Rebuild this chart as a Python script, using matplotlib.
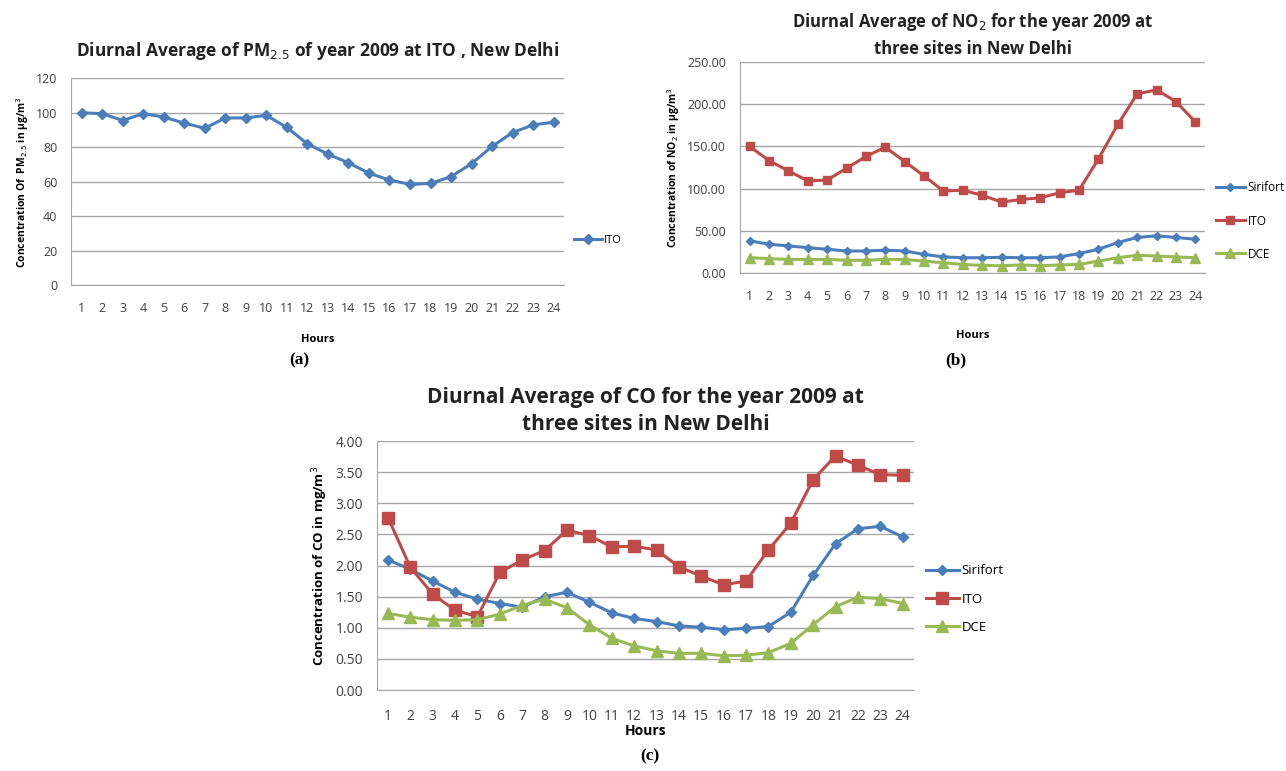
import matplotlib
matplotlib.use("Agg")
import matplotlib.pyplot as plt
import numpy as np

plt.rcParams['font.family'] = ['Open Sans', 'DejaVu Sans']

hours = list(range(1, 25))

# (a) PM2.5 at ITO, ug/m3
pm25_ito = [100, 99.5, 95.5, 99.5, 97.5, 94, 91, 97, 97, 98.5, 91.5, 82,
            76, 71, 65, 61, 58.5, 59, 63, 70.5, 80.5, 88.5, 93, 94.5]

# (b) NO2, ug/m3
no2_sirifort = [38, 34, 32, 30, 28, 26, 26, 27, 26, 22, 19, 18,
                18, 18.5, 18, 18, 19, 23, 28, 36, 42, 44, 42, 40]
no2_ito = [150, 133, 121, 109, 110, 124, 138, 149, 132, 115, 97, 98,
           92, 84, 87, 89, 95, 98, 135, 176, 212, 217, 203, 179]
no2_dce = [18, 17, 16, 16, 16, 15, 15, 16, 16, 14, 12, 10,
           9, 8.5, 9.5, 8.5, 9.5, 10, 14, 18, 21, 20, 19, 18]

# (c) CO, mg/m3
co_sirifort = [2.09, 1.94, 1.75, 1.57, 1.46, 1.39, 1.33, 1.50, 1.57, 1.41, 1.24, 1.15,
               1.10, 1.03, 1.01, 0.97, 0.99, 1.02, 1.25, 1.84, 2.35, 2.59, 2.63, 2.46]
co_ito = [2.77, 1.97, 1.54, 1.28, 1.18, 1.89, 2.09, 2.24, 2.57, 2.48, 2.30, 2.31,
          2.25, 1.98, 1.83, 1.69, 1.75, 2.25, 2.68, 3.38, 3.76, 3.61, 3.46, 3.45]
co_dce = [1.23, 1.17, 1.13, 1.12, 1.13, 1.22, 1.36, 1.46, 1.32, 1.05, 0.83, 0.71,
          0.63, 0.59, 0.59, 0.55, 0.56, 0.60, 0.75, 1.05, 1.34, 1.49, 1.47, 1.39]

blue = '#4A7EBB'
red = '#BE4B48'
green = '#98B954'
grid_col = '#A6A6A6'
tick_col = '#404040'


def style_axes(ax, yticks, fmt):
    ax.set_xlim(0.5, 24.5)
    ax.set_ylim(yticks[0], yticks[-1])
    ax.set_yticks(yticks)
    ax.set_yticklabels([fmt.format(v) for v in yticks])
    ax.set_xticks(hours)
    ax.yaxis.grid(True, color=grid_col, linewidth=1)
    ax.set_axisbelow(True)
    for s in ['top', 'right']:
        ax.spines[s].set_visible(False)
    for s in ['left', 'bottom']:
        ax.spines[s].set_color(grid_col)
    ax.tick_params(length=0, labelsize=9, colors=tick_col, pad=10)
    ax.tick_params(axis='x', pad=12)


fig = plt.figure(figsize=(12.86, 7.71), dpi=100)

# ---- panel (a)
ax1 = fig.add_axes([0.0555, 0.630, 0.383, 0.2685])
ax1.plot(hours, pm25_ito, color=blue, lw=2.2, marker='D', ms=5.5, label='ITO')
style_axes(ax1, np.arange(0, 121, 20), '{:.0f}')
ax1.set_title('Diurnal Average of PM$_{2.5}$ of year 2009 at ITO , New Delhi',
              fontsize=12.5, fontweight='bold', color='#222222', pad=16)
ax1.set_xlabel('Hours', fontsize=8, fontweight='bold', labelpad=14)
ax1.set_ylabel('Concentration Of  PM$_{2.5}$ in µg/m$^3$', fontsize=7.5, fontweight='bold')
ax1.legend(loc='center left', bbox_to_anchor=(1.0, 0.215), frameon=False,
           fontsize=8, handlelength=2.5, handletextpad=0.2)

# ---- panel (b)
ax2 = fig.add_axes([0.5754, 0.646, 0.3616, 0.2737])
ax2.plot(hours, no2_sirifort, color=blue, lw=2.2, marker='D', ms=4.5, label='Sirifort')
ax2.plot(hours, no2_ito, color=red, lw=2.2, marker='s', ms=6, label='ITO')
ax2.plot(hours, no2_dce, color=green, lw=2.2, marker='^', ms=6.5, label='DCE')
style_axes(ax2, np.arange(0, 251, 50), '{:.2f}')
ax2.set_title('Diurnal Average of NO$_2$ for the year 2009 at\nthree sites in New Delhi',
              fontsize=12, fontweight='bold', color='#222222', pad=6, linespacing=1.5)
ax2.set_xlabel('Hours', fontsize=8, fontweight='bold', labelpad=20)
ax2.set_ylabel('Concentration of NO$_2$ in µg/m$^3$', fontsize=7.5, fontweight='bold')
ax2.legend(loc='center left', bbox_to_anchor=(1.0, 0.246), frameon=False,
           fontsize=8.5, handlelength=2.5, handletextpad=0.2, labelspacing=1.7)

# ---- panel (c)
ax3 = fig.add_axes([0.293, 0.105, 0.4176, 0.323])
ax3.plot(hours, co_sirifort, color=blue, lw=2.2, marker='D', ms=5, label='Sirifort')
ax3.plot(hours, co_ito, color=red, lw=2.2, marker='s', ms=8, label='ITO')
ax3.plot(hours, co_dce, color=green, lw=2.2, marker='^', ms=8, label='DCE')
style_axes(ax3, np.arange(0, 4.01, 0.5), '{:.2f}')
ax3.tick_params(labelsize=10)
ax3.tick_params(axis='x', pad=14)
ax3.set_title('Diurnal Average of CO for the year 2009 at\nthree sites in New Delhi',
              fontsize=15, fontweight='bold', color='#222222', pad=8, linespacing=1.4)
ax3.set_xlabel('Hours', fontsize=10, fontweight='bold', labelpad=0)
ax3.set_ylabel('Concentration of CO in mg/m$^3$', fontsize=9.5, fontweight='bold')
ax3.legend(loc='center left', bbox_to_anchor=(1.0, 0.365), frameon=False,
           fontsize=9.5, handlelength=2.5, handletextpad=0.2, labelspacing=1.15)

# captions
for x, y, t in [(0.2325, 0.522, '(a)'), (0.743, 0.522, '(b)'), (0.5055, 0.008, '(c)')]:
    fig.text(x, y, t, ha='center', va='bottom', fontsize=12.5, fontweight='bold',
             family='Liberation Serif')

fig.savefig('out.png', dpi=100)
